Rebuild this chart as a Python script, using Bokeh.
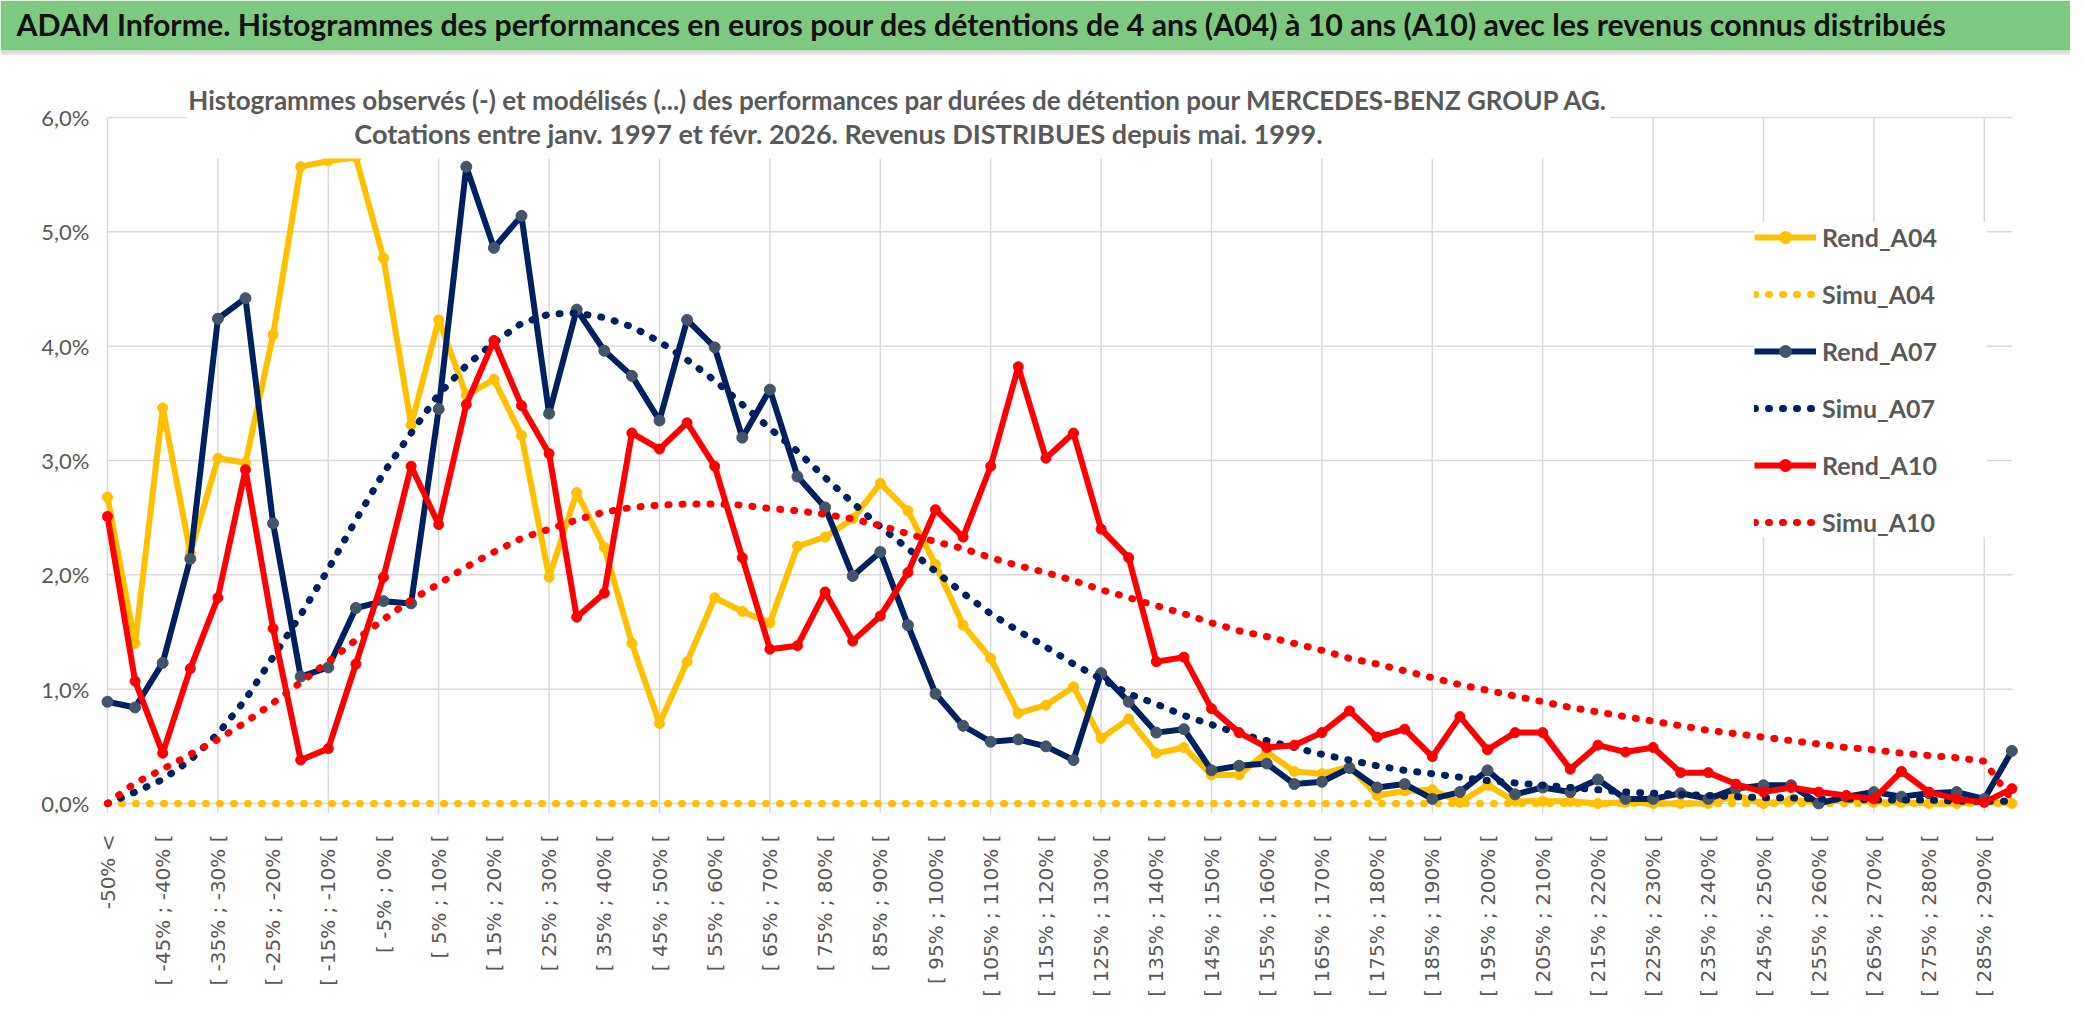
import math
from bokeh.plotting import figure
from bokeh.models import (FixedTicker, Range1d, Label, BoxAnnotation, Legend,
                          LegendItem, ColumnDataSource)
from bokeh.core.properties import value
from bokeh.embed import file_html
from bokeh.resources import INLINE

# ---------------- data ----------------
categories = ["-50% <"] + [f"[ {a}% ; {a + 5}% [" for a in range(-50, 295, 5)]

rend_a04 = [
    2.68, 1.40, 3.46, 2.19, 3.02, 2.98, 4.10, 5.57, 5.62, 5.65,
    4.77, 3.31, 4.23, 3.57, 3.71, 3.22, 1.98, 2.72, 2.24, 1.40,
    0.70, 1.24, 1.80, 1.68, 1.58, 2.25, 2.33, 2.49, 2.80, 2.56,
    2.09, 1.56, 1.27, 0.79, 0.86, 1.02, 0.57, 0.74, 0.44, 0.49,
    0.25, 0.25, 0.45, 0.28, 0.26, 0.32, 0.07, 0.11, 0.12, 0.01,
    0.16, 0.02, 0.02, 0.02, 0.00, 0.01, 0.00, 0.00, 0.00, 0.07,
    0.00, 0.03, 0.01, 0.03, 0.01, 0.01, 0.00, 0.00, 0.01, 0.00]

simu_a04 = [
    0.00, 0.00, 0.00, 0.00, 0.00, 0.00, 0.00, 0.00, 0.00, 0.00,
    0.00, 0.00, 0.00, 0.00, 0.00, 0.00, 0.00, 0.00, 0.00, 0.00,
    0.00, 0.00, 0.00, 0.00, 0.00, 0.00, 0.00, 0.00, 0.00, 0.00,
    0.00, 0.00, 0.00, 0.00, 0.00, 0.00, 0.00, 0.00, 0.00, 0.00,
    0.00, 0.00, 0.00, 0.00, 0.00, 0.00, 0.00, 0.00, 0.00, 0.00,
    0.00, 0.00, 0.00, 0.00, 0.00, 0.00, 0.00, 0.00, 0.00, 0.00,
    0.00, 0.00, 0.00, 0.00, 0.00, 0.00, 0.00, 0.00, 0.00, 0.00]

rend_a07 = [
    0.89, 0.84, 1.23, 2.14, 4.24, 4.42, 2.45, 1.11, 1.19, 1.71,
    1.77, 1.75, 3.45, 5.57, 4.86, 5.14, 3.41, 4.32, 3.96, 3.74,
    3.35, 4.23, 3.99, 3.20, 3.62, 2.86, 2.59, 1.99, 2.20, 1.56,
    0.96, 0.68, 0.54, 0.56, 0.50, 0.38, 1.14, 0.89, 0.62, 0.65,
    0.29, 0.33, 0.35, 0.17, 0.19, 0.31, 0.14, 0.17, 0.04, 0.10,
    0.29, 0.08, 0.14, 0.10, 0.21, 0.04, 0.04, 0.09, 0.04, 0.13,
    0.16, 0.16, 0.00, 0.06, 0.10, 0.06, 0.09, 0.10, 0.04, 0.46]

simu_a07 = [
    0.00, 0.10, 0.21, 0.38, 0.61, 0.91, 1.28, 1.65, 2.05, 2.48,
    2.89, 3.24, 3.58, 3.83, 4.03, 4.20, 4.28, 4.29, 4.25, 4.17,
    4.04, 3.88, 3.70, 3.49, 3.28, 3.08, 2.85, 2.63, 2.42, 2.23,
    2.03, 1.84, 1.66, 1.51, 1.37, 1.22, 1.09, 0.96, 0.87, 0.77,
    0.69, 0.61, 0.55, 0.49, 0.43, 0.38, 0.33, 0.29, 0.26, 0.23,
    0.20, 0.18, 0.16, 0.14, 0.12, 0.10, 0.09, 0.08, 0.07, 0.06,
    0.05, 0.05, 0.04, 0.04, 0.03, 0.03, 0.03, 0.02, 0.02, 0.02]

rend_a10 = [
    2.51, 1.07, 0.44, 1.18, 1.80, 2.92, 1.53, 0.38, 0.48, 1.22,
    1.98, 2.95, 2.44, 3.49, 4.05, 3.48, 3.06, 1.63, 1.84, 3.24,
    3.10, 3.33, 2.95, 2.15, 1.35, 1.38, 1.85, 1.42, 1.64, 2.02,
    2.57, 2.33, 2.95, 3.82, 3.02, 3.24, 2.40, 2.15, 1.24, 1.28,
    0.83, 0.62, 0.49, 0.51, 0.62, 0.81, 0.58, 0.65, 0.41, 0.76,
    0.47, 0.62, 0.62, 0.30, 0.51, 0.45, 0.49, 0.27, 0.27, 0.17,
    0.10, 0.14, 0.10, 0.07, 0.04, 0.28, 0.10, 0.04, 0.01, 0.13]

simu_a10 = [
    0.00, 0.18, 0.30, 0.43, 0.56, 0.71, 0.88, 1.06, 1.24, 1.43,
    1.61, 1.78, 1.92, 2.07, 2.20, 2.32, 2.40, 2.48, 2.55, 2.59,
    2.61, 2.62, 2.62, 2.61, 2.58, 2.56, 2.53, 2.49, 2.43, 2.36,
    2.29, 2.23, 2.15, 2.08, 2.02, 1.95, 1.87, 1.80, 1.73, 1.66,
    1.58, 1.51, 1.46, 1.40, 1.34, 1.27, 1.22, 1.16, 1.10, 1.04,
    0.99, 0.94, 0.89, 0.84, 0.80, 0.76, 0.72, 0.68, 0.64, 0.61,
    0.58, 0.55, 0.52, 0.49, 0.47, 0.44, 0.42, 0.40, 0.37, 0.03]

y_ticks = [0, 1, 2, 3, 4, 5, 6]
y_tick_labels = ["0,0%", "1,0%", "2,0%", "3,0%", "4,0%", "5,0%", "6,0%"]

TITLE = ("ADAM Informe. Histogrammes des performances en euros pour des détentions "
         "de 4 ans (A04) à 10 ans (A10) avec les revenus connus distribués")
SUB1 = ("Histogrammes observés (-) et modélisés (...) des performances par durées "
        "de détention pour MERCEDES-BENZ GROUP AG.")
SUB2 = "Cotations entre janv. 1997 et févr. 2026. Revenus DISTRIBUES depuis mai. 1999."

n = len(categories)
for s in (rend_a04, simu_a04, rend_a07, simu_a07, rend_a10, simu_a10):
    assert len(s) == n, len(s)

# ---------------- styles / geometry ----------------
GREEN = "#7DC97F"
YELLOW = "#FFC000"
NAVY = "#002060"
NAVY_MARK = "#44546A"
RED = "#FF0000"
GRID = "#D9D9D9"
GREY_TXT = "#595959"

W, H = 2070, 1015          # canvas
FRAME_H = 813              # frame covers canvas y 0..813
PX_X = 27.6                # px per category
PX_Y = 114.33              # px per 1%
X0, Y0 = 107, 803          # canvas position of category 0 and of 0%


def px_x(cx):
    return (cx - X0) / PX_X


def px_y(cy):
    return (Y0 - cy) / PX_Y


x_start = px_x(0)
y_start = px_y(FRAME_H)

p = figure(frame_width=W, frame_height=FRAME_H,
           x_range=Range1d(x_start, x_start + W / PX_X),
           y_range=Range1d(y_start, y_start + FRAME_H / PX_Y),
           y_axis_type=None,
           min_border_left=0, min_border_right=0, min_border_top=0,
           min_border_bottom=H - FRAME_H, toolbar_location=None, output_backend="svg")
p.background_fill_color = "white"
p.border_fill_color = "white"
p.outline_line_color = None
p.xgrid.visible = False

# gridlines (Excel style: limited to the plot area)
p.segment(x0=[0] * len(y_ticks), x1=[n - 1] * len(y_ticks), y0=y_ticks, y1=y_ticks,
          line_color=GRID, line_width=1.5, level="underlay")
vg = list(range(0, n, 4))
p.segment(x0=vg, x1=vg, y0=[y_start] * len(vg), y1=[max(y_ticks)] * len(vg),
          line_color=GRID, line_width=1.5, level="underlay")

# y tick labels
p.text(x=[px_x(89)] * len(y_ticks), y=y_ticks, text=y_tick_labels,
       text_align="right", text_baseline="middle", text_font=value("Lato"),
       text_font_size="22px", text_color=GREY_TXT)

# x axis
p.xaxis.ticker = FixedTicker(ticks=list(range(0, n, 2)))
p.xaxis.major_label_overrides = {i: categories[i] for i in range(0, n, 2)}
p.xaxis.major_label_orientation = math.pi / 2
p.xaxis.axis_line_color = None
p.xaxis.major_tick_line_color = None
p.xaxis.minor_tick_line_color = None
p.xaxis.major_label_standoff = 15
p.xaxis.major_label_text_font = "DejaVu Sans"
p.xaxis.major_label_text_font_size = "20px"
p.xaxis.major_label_text_color = GREY_TXT

src = ColumnDataSource(dict(x=list(range(n)), a04=rend_a04, s04=simu_a04,
                            a07=rend_a07, s07=simu_a07, a10=rend_a10, s10=simu_a10))

DOT = "1 13"
r04 = p.line("x", "a04", source=src, line_color=YELLOW, line_width=6, line_join="round")
m04 = p.scatter("x", "a04", source=src, size=10, fill_color=YELLOW, line_color=YELLOW)
s04 = p.line("x", "s04", source=src, line_color=YELLOW, line_width=7, line_dash=DOT,
             line_cap="round")
r07 = p.line("x", "a07", source=src, line_color=NAVY, line_width=6, line_join="round")
m07 = p.scatter("x", "a07", source=src, size=11, fill_color=NAVY_MARK, line_color=NAVY_MARK)
s07 = p.line("x", "s07", source=src, line_color=NAVY, line_width=7, line_dash=DOT,
             line_cap="round")
r10 = p.line("x", "a10", source=src, line_color=RED, line_width=6, line_join="round")
m10 = p.scatter("x", "a10", source=src, size=10, fill_color=RED, line_color=RED)
s10 = p.line("x", "s10", source=src, line_color=RED, line_width=7, line_dash=DOT,
             line_cap="round")

# green header bar with title
p.add_layout(BoxAnnotation(bottom=px_y(50), fill_color=GREEN, fill_alpha=1.0,
                           line_color=None))
p.add_layout(BoxAnnotation(bottom=px_y(54), top=px_y(50), fill_color="#DCDCDC",
                           fill_alpha=1.0, line_color=None))
p.add_layout(Label(x=px_x(16), y=px_y(23), text=TITLE, text_font="Lato",
                   text_font_size="30.3px", text_font_style="bold", text_color="#111111",
                   text_baseline="middle"))

# subtitle box + text
p.add_layout(BoxAnnotation(left=px_x(186), right=px_x(1610), bottom=px_y(158),
                           top=px_y(70), fill_color="white", fill_alpha=1.0,
                           line_color=None))
p.add_layout(Label(x=px_x(898), y=px_y(99), text=SUB1, text_font="Lato",
                   text_font_size="26px", text_font_style="bold", text_color=GREY_TXT,
                   text_align="center", text_baseline="middle"))
p.add_layout(Label(x=px_x(838), y=px_y(133), text=SUB2, text_font="Lato",
                   text_font_size="27px", text_font_style="bold", text_color=GREY_TXT,
                   text_align="center", text_baseline="middle"))

legend = Legend(items=[
    LegendItem(label="Rend_A04", renderers=[r04, m04]),
    LegendItem(label="Simu_A04", renderers=[s04]),
    LegendItem(label="Rend_A07", renderers=[r07, m07]),
    LegendItem(label="Simu_A07", renderers=[s07]),
    LegendItem(label="Rend_A10", renderers=[r10, m10]),
    LegendItem(label="Simu_A10", renderers=[s10]),
], location=(1754, 276))
legend.glyph_width = 62
legend.glyph_height = 30
legend.label_height = 30
legend.label_width = 165
legend.label_standoff = 6
legend.spacing = 27
legend.padding = 14
legend.margin = 0
legend.border_line_color = None
legend.background_fill_color = "white"
legend.background_fill_alpha = 1.0
legend.label_text_font = "Lato"
legend.label_text_font_size = "25px"
legend.label_text_font_style = "bold"
legend.label_text_color = GREY_TXT
p.add_layout(legend)

open("out.html", "w").write(file_html(p, INLINE))
